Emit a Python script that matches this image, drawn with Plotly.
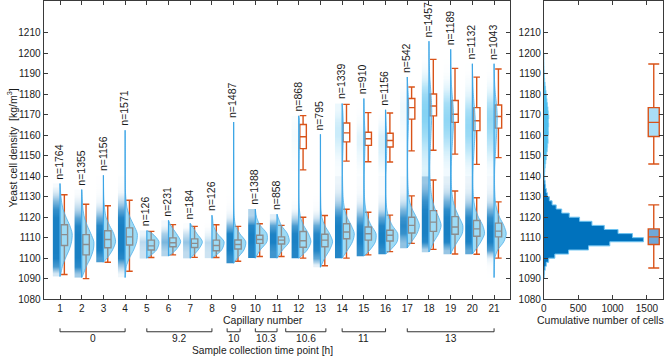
import math
import plotly.graph_objects as go

# ---------------- data ----------------
capillaries = list(range(1, 22))
n_cells = [1764, 1355, 1156, 1571, 126, 231, 184, 126, 1487, 1388, 858,
           868, 795, 1339, 910, 1156, 542, 1457, 1189, 1132, 1043]
data_min = [1091, 1090.5, 1098, 1090.5, 1100, 1101, 1100, 1100, 1097.5, 1100, 1100,
            1100, 1095.5, 1100, 1101, 1102, 1105, 1103, 1102, 1102, 1090.5]
data_max = [1136.5, 1133.5, 1140.5, 1162.5, 1113.5, 1118.5, 1117, 1121, 1166.5, 1124, 1121.5,
            1169.5, 1160.5, 1175.5, 1178, 1172.5, 1188.5, 1206, 1202, 1195, 1195]

# lower (dense) population box statistics
low_wl = [1092, 1090, 1098, 1093.6, 1100.3, 1101.6, 1100.4, 1100.3, 1098.5, 1100.8, 1100.8,
          1100, 1096.3, 1100, 1101.6, 1103.2, 1107.2, 1104.3, 1102, 1101.9, 1100]
low_q1 = [1106.2, 1101.6, 1105.1, 1106.4, 1104, 1105.6, 1105.2, 1103.6, 1104.5, 1107.2, 1106.9,
          1105.3, 1105.6, 1109.5, 1108.8, 1108.4, 1112.3, 1113.1, 1111.7, 1110.7, 1110.4]
low_med = [1111.5, 1106.7, 1109.1, 1110.4, 1106, 1107.5, 1107.2, 1106.2, 1106.7, 1109.1, 1108.8,
           1108.5, 1108.8, 1112.8, 1111.9, 1111.2, 1116, 1117.6, 1115.2, 1114.3, 1113.2]
low_q3 = [1116.3, 1111.5, 1113.4, 1114.8, 1108.8, 1109.9, 1109.4, 1108.8, 1108.9, 1111.2, 1110.4,
          1113, 1111.7, 1116.8, 1115.2, 1113.6, 1120, 1123.2, 1120.3, 1118.4, 1117.1]
low_wh = [1131, 1126.3, 1125.6, 1128.3, 1113.1, 1116.4, 1115.5, 1116.3, 1115.5, 1116.8, 1116,
          1120, 1120.8, 1123.9, 1122.4, 1121, 1130.4, 1138.2, 1132.8, 1129.5, 1127.5]

# upper (high density) population box statistics
up_caps = [12, 14, 15, 16, 17, 18, 19, 20, 21]
up_wl = [1143.1, 1147.4, 1147.1, 1147, 1152.4, 1152.7, 1150.8, 1145.8, 1149.1]
up_q1 = [1153.5, 1156.8, 1155.1, 1154.3, 1167.9, 1169.5, 1166.3, 1162.3, 1163.5]
up_med = [1159.3, 1161.2, 1158.3, 1157.5, 1173.5, 1174.3, 1170.3, 1167.1, 1169.2]
up_q3 = [1165.3, 1166, 1161.5, 1161, 1178, 1180.2, 1177, 1173.5, 1174.8]
up_wh = [1169.6, 1175.1, 1171.1, 1170.9, 1183.6, 1197.1, 1192.7, 1188.4, 1192.4]

# relative density profile of every capillary (peak = 1) on a common density grid
density_grid = [1088, 1092, 1096, 1100, 1104, 1108, 1112, 1116, 1120, 1124, 1128, 1132, 1136, 1140, 1144,
                1148, 1152, 1156, 1160, 1164, 1168, 1172, 1176, 1180, 1184, 1188, 1192, 1196, 1200, 1204, 1208]
violin_widths = [
    [0, 0.05, 0.2, 0.45, 0.75, 0.95, 1.0, 0.8, 0.5, 0.25, 0.12, 0.05, 0.02, 0, 0, 0, 0, 0, 0, 0, 0, 0, 0, 0, 0, 0, 0, 0, 0, 0, 0],
    [0, 0.12, 0.38, 0.72, 0.95, 1.0, 0.75, 0.45, 0.22, 0.1, 0.05, 0.02, 0, 0, 0, 0, 0, 0, 0, 0, 0, 0, 0, 0, 0, 0, 0, 0, 0, 0, 0],
    [0, 0, 0.05, 0.3, 0.75, 1.0, 0.85, 0.5, 0.22, 0.1, 0.04, 0.02, 0.01, 0, 0, 0, 0, 0, 0, 0, 0, 0, 0, 0, 0, 0, 0, 0, 0, 0, 0],
    [0, 0.03, 0.1, 0.35, 0.7, 0.95, 1.0, 0.72, 0.4, 0.18, 0.08, 0.03, 0.015, 0.01, 0.008, 0.006, 0.005, 0.004, 0.003, 0, 0, 0, 0, 0, 0, 0, 0, 0, 0, 0, 0],
    [0, 0, 0, 0.2, 0.8, 1.0, 0.45, 0.08, 0, 0, 0, 0, 0, 0, 0, 0, 0, 0, 0, 0, 0, 0, 0, 0, 0, 0, 0, 0, 0, 0, 0],
    [0, 0, 0, 0.12, 0.6, 1.0, 0.65, 0.18, 0.03, 0, 0, 0, 0, 0, 0, 0, 0, 0, 0, 0, 0, 0, 0, 0, 0, 0, 0, 0, 0, 0, 0],
    [0, 0, 0, 0.15, 0.65, 1.0, 0.55, 0.12, 0.02, 0, 0, 0, 0, 0, 0, 0, 0, 0, 0, 0, 0, 0, 0, 0, 0, 0, 0, 0, 0, 0, 0],
    [0, 0, 0, 0.25, 0.8, 1.0, 0.45, 0.12, 0.04, 0, 0, 0, 0, 0, 0, 0, 0, 0, 0, 0, 0, 0, 0, 0, 0, 0, 0, 0, 0, 0, 0],
    [0, 0, 0.04, 0.3, 0.85, 1.0, 0.5, 0.15, 0.05, 0.02, 0.01, 0.006, 0.005, 0.004, 0.003, 0.003, 0.002, 0.002, 0.002, 0.001, 0, 0, 0, 0, 0, 0, 0, 0, 0, 0, 0],
    [0, 0, 0, 0.08, 0.4, 0.95, 0.95, 0.4, 0.1, 0.02, 0, 0, 0, 0, 0, 0, 0, 0, 0, 0, 0, 0, 0, 0, 0, 0, 0, 0, 0, 0, 0],
    [0, 0, 0, 0.1, 0.45, 1.0, 0.85, 0.35, 0.08, 0.01, 0, 0, 0, 0, 0, 0, 0, 0, 0, 0, 0, 0, 0, 0, 0, 0, 0, 0, 0, 0, 0],
    [0, 0, 0.02, 0.2, 0.7, 1.0, 0.8, 0.4, 0.15, 0.05, 0.02, 0.01, 0.01, 0.01, 0.02, 0.03, 0.04, 0.05, 0.06, 0.05, 0.04, 0, 0, 0, 0, 0, 0, 0, 0, 0, 0],
    [0, 0, 0.08, 0.35, 0.75, 1.0, 0.75, 0.35, 0.12, 0.04, 0.02, 0.01, 0.005, 0.004, 0.003, 0.002, 0.002, 0.001, 0.001, 0, 0, 0, 0, 0, 0, 0, 0, 0, 0, 0, 0],
    [0, 0, 0, 0.08, 0.45, 0.85, 1.0, 0.75, 0.4, 0.2, 0.1, 0.06, 0.04, 0.03, 0.03, 0.04, 0.06, 0.08, 0.1, 0.1, 0.08, 0.05, 0.02, 0, 0, 0, 0, 0, 0, 0, 0],
    [0, 0, 0, 0.1, 0.5, 0.95, 1.0, 0.6, 0.3, 0.15, 0.07, 0.04, 0.03, 0.03, 0.04, 0.06, 0.08, 0.1, 0.1, 0.07, 0.04, 0.02, 0.01, 0, 0, 0, 0, 0, 0, 0, 0],
    [0, 0, 0, 0.05, 0.4, 0.95, 1.0, 0.55, 0.25, 0.1, 0.05, 0.03, 0.03, 0.03, 0.05, 0.07, 0.09, 0.1, 0.09, 0.06, 0.03, 0.01, 0, 0, 0, 0, 0, 0, 0, 0, 0],
    [0, 0, 0, 0, 0.05, 0.35, 0.8, 1.0, 0.75, 0.4, 0.18, 0.1, 0.06, 0.04, 0.03, 0.03, 0.04, 0.05, 0.07, 0.09, 0.11, 0.12, 0.11, 0.08, 0.04, 0.02, 0, 0, 0, 0, 0],
    [0, 0, 0, 0, 0.1, 0.4, 0.8, 1.0, 0.8, 0.5, 0.3, 0.18, 0.12, 0.08, 0.07, 0.08, 0.1, 0.13, 0.16, 0.19, 0.22, 0.23, 0.21, 0.17, 0.12, 0.07, 0.04, 0.02, 0.01, 0.005, 0],
    [0, 0, 0, 0.02, 0.15, 0.55, 0.95, 1.0, 0.7, 0.4, 0.2, 0.1, 0.06, 0.05, 0.05, 0.07, 0.1, 0.14, 0.18, 0.22, 0.24, 0.22, 0.18, 0.12, 0.07, 0.04, 0.02, 0.01, 0.005, 0, 0],
    [0, 0, 0, 0.05, 0.25, 0.7, 1.0, 0.85, 0.5, 0.25, 0.12, 0.07, 0.05, 0.05, 0.06, 0.09, 0.13, 0.17, 0.22, 0.24, 0.23, 0.19, 0.13, 0.08, 0.05, 0.03, 0.01, 0, 0, 0, 0],
    [0, 0.01, 0.02, 0.06, 0.3, 0.8, 1.0, 0.8, 0.45, 0.22, 0.1, 0.06, 0.04, 0.04, 0.05, 0.08, 0.12, 0.16, 0.2, 0.24, 0.26, 0.24, 0.18, 0.11, 0.06, 0.03, 0.01, 0, 0, 0, 0],
]

# sample collection time points (groups of capillaries)
group_labels = ["0", "9.2", "10", "10.3", "10.6", "11", "13"]
group_start = [1, 5, 8.7, 10, 11.4, 14, 17]
group_end = [4, 8, 9.3, 11, 13.25, 16, 21]

# cumulative histogram (all capillaries), 2 kg/m^3 bins
low_hist_edges = list(range(1090, 1148, 2))
low_hist_counts = [5, 10, 18, 35, 70, 160, 360, 650, 960, 1450, 1290, 1080, 880, 700, 520, 370,
                   260, 180, 120, 80, 50, 35, 25, 18, 12, 8, 5, 3]
up_hist_edges = list(range(1140, 1202, 2))
up_hist_counts = [12, 15, 20, 28, 35, 42, 50, 55, 62, 60, 68, 65, 70, 66, 72, 64, 60, 52, 45, 40,
                  32, 25, 18, 12, 8, 5, 3, 2, 1, 1]

# pooled box statistics: [lower whisker, q1, median, q3, upper whisker]
pooled_low = [1095.2, 1106.7, 1110.4, 1114.3, 1126]
pooled_up = [1146, 1159.4, 1166.3, 1173.5, 1194.8]

y_ticks = list(range(1080, 1220, 10))
count_ticks = [0, 500, 1000, 1500]

# ---------------- styling ----------------
DARK = "rgb(0,114,189)"
LIGHT = "rgb(77,190,238)"
ORANGE = "#D95319"
AXIS = "#3a3a3a"
FONT = "Liberation Sans, Arial, Helvetica, sans-serif"
THRESH = 1140          # points above this density are drawn in the light colour
VIOLIN_W = 0.56
CLOUD_X = (-0.33, -0.17, -0.01)

fig = go.Figure()


def cloud_heatmap(cap, rows, edges, n, color):
    """density shading of the jittered point cloud of one capillary"""
    z = [[0.95 * (1 - math.exp(-n * wv / 160.0))] * 2 for wv in rows]
    return go.Heatmap(
        x=[cap + d for d in CLOUD_X], y=edges, z=z, zmin=0, zmax=1, zsmooth="best",
        colorscale=[[0, "rgba(255,255,255,0)"], [1, color]], showscale=False,
        hoverinfo="skip", xaxis="x", yaxis="y")


for i, cap in enumerate(capillaries):
    n = n_cells[i]
    w = violin_widths[i]
    lo, hi = data_min[i], data_max[i]
    inside = [(yv, wv) for yv, wv in zip(density_grid, w) if lo < yv < hi]
    for part_lo, part_hi, color in [(lo, min(hi, THRESH), DARK), (max(lo, THRESH), hi, LIGHT)]:
        sel = [(yv, wv) for yv, wv in inside if part_lo <= yv < part_hi]
        if part_hi <= part_lo or not sel:
            continue
        ys = [p[0] for p in sel]
        edges = [part_lo] + [(a + b) / 2 for a, b in zip(ys[:-1], ys[1:])] + [part_hi]
        fig.add_trace(cloud_heatmap(cap, [p[1] for p in sel], edges, n, color))
    # ---- half violin ----
    vy = [lo] + [p[0] for p in inside if lo + 0.5 < p[0] < hi - 0.5] + [hi]
    vx = [cap] + [cap + VIOLIN_W * p[1] for p in inside if lo + 0.5 < p[0] < hi - 0.5] + [cap]
    fig.add_trace(go.Scatter(
        x=vx, y=vy, mode="lines", line=dict(color="rgb(80,175,232)", width=0.8, shape="spline", smoothing=0.8),
        fill="toself", fillcolor="rgba(77,190,238,0.55)", hoverinfo="skip", xaxis="x", yaxis="y"))
    fig.add_trace(go.Scatter(
        x=[cap, cap], y=[lo, hi], mode="lines",
        line=dict(color="rgb(60,165,230)", width=1.2), hoverinfo="skip", xaxis="x", yaxis="y"))
    fig.add_annotation(x=cap - 0.05, y=hi + 1.0, xref="x", yref="y", text=f"n={n}",
                       textangle=-90, showarrow=False, xanchor="center", yanchor="bottom",
                       font=dict(size=10.5, color="#1a1a1a", family=FONT))

box_style = dict(width=0.3, whiskerwidth=1.0, fillcolor="rgba(255,255,255,0)",
                 line=dict(color=ORANGE, width=1.4), boxpoints=False, hoverinfo="skip",
                 xaxis="x", yaxis="y")
fig.add_trace(go.Box(x=[c + 0.2 for c in capillaries], q1=low_q1, median=low_med, q3=low_q3,
                     lowerfence=low_wl, upperfence=low_wh, **box_style))
fig.add_trace(go.Box(x=[c + 0.2 for c in up_caps], q1=up_q1, median=up_med, q3=up_q3,
                     lowerfence=up_wl, upperfence=up_wh, **box_style))

# ---------------- right panel: pooled histogram ----------------
fig.add_trace(go.Scatter(
    x=up_hist_counts + [0], y=up_hist_edges, mode="lines", line=dict(shape="vh", color="rgb(120,205,242)", width=0.8),
    fill="tozerox", fillcolor=LIGHT, hoverinfo="skip", xaxis="x2", yaxis="y2"))
fig.add_trace(go.Scatter(
    x=low_hist_counts + [0], y=low_hist_edges, mode="lines", line=dict(shape="vh", color="rgb(110,195,240)", width=1),
    fill="tozerox", fillcolor=DARK, hoverinfo="skip", xaxis="x2", yaxis="y2"))
for stats, fc in [(pooled_up, "rgb(170,222,246)"), (pooled_low, "rgb(112,168,216)")]:
    fig.add_trace(go.Box(x=[1600], lowerfence=[stats[0]], q1=[stats[1]], median=[stats[2]],
                         q3=[stats[3]], upperfence=[stats[4]], width=160, whiskerwidth=1.0,
                         fillcolor=fc, line=dict(color=ORANGE, width=1.4), boxpoints=False,
                         hoverinfo="skip", xaxis="x2", yaxis="y2"))

# ---------------- group brackets and titles ----------------
H = 361.0


def py(px):
    return 1 - px / H


for lab, s, e in zip(group_labels, group_start, group_end):
    fig.add_shape(type="path", xref="x", yref="paper",
                  path=f"M {s},{py(333.8)} L {s},{py(337.3)} L {e},{py(337.3)} L {e},{py(333.8)}",
                  line=dict(color="#333333", width=1))
    fig.add_annotation(x=(s + e) / 2, y=py(344.5), xref="x", yref="paper", text=lab, showarrow=False,
                       xanchor="center", yanchor="middle", font=dict(size=10.2, color="#1a1a1a", family=FONT))

fig.add_annotation(x=10.33, y=py(325.7), xref="x", yref="paper", text="Capillary number", showarrow=False,
                   xanchor="center", yanchor="middle", font=dict(size=10.5, color="#1a1a1a", family=FONT))
fig.add_annotation(x=10.33, y=py(356.3), xref="x", yref="paper", text="Sample collection time point [h]",
                   showarrow=False, xanchor="center", yanchor="middle",
                   font=dict(size=10.2, color="#1a1a1a", family=FONT))
fig.add_annotation(x=600 / 664, y=py(325.7), xref="paper", yref="paper", text="Cumulative number of cells",
                   showarrow=False, xanchor="center", yanchor="middle",
                   font=dict(size=10.5, color="#1a1a1a", family=FONT))
fig.add_annotation(x=8.5 / 664, y=py(150), xref="paper", yref="paper",
                   text="Yeast cell density  [kg/m<sup>3</sup>]", textangle=-90, showarrow=False,
                   xanchor="center", yanchor="middle", font=dict(size=10.5, color="#1a1a1a", family=FONT))

axis_common = dict(showline=True, linecolor=AXIS, linewidth=1, mirror="ticks", ticks="inside",
                   ticklen=4, tickcolor=AXIS, showgrid=False, zeroline=False,
                   tickfont=dict(size=10, color="#1a1a1a", family=FONT))
yrange = [1080, 1225.6]
fig.update_layout(
    width=664, height=361, margin=dict(l=0, r=0, t=0, b=0),
    paper_bgcolor="white", plot_bgcolor="white", showlegend=False, boxmode="overlay",
    xaxis=dict(domain=[40.7 / 664, 509 / 664], range=[0.24, 21.72], tickvals=capillaries,
               anchor="y", **axis_common),
    yaxis=dict(domain=[py(304), 1.0], range=yrange, tickvals=y_ticks, anchor="x", **axis_common),
    xaxis2=dict(domain=[543.3 / 664, 663.3 / 664], range=[0, 1739], tickvals=count_ticks,
                anchor="y2", **axis_common),
    yaxis2=dict(domain=[py(304), 1.0], range=yrange, tickvals=y_ticks, anchor="x2", **axis_common),
)

fig.write_html("out.html")
